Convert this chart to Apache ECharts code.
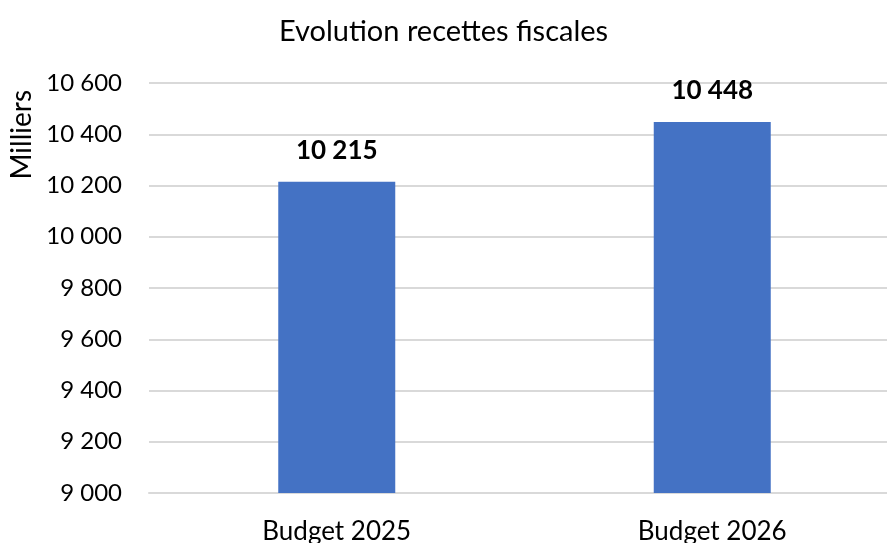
<!DOCTYPE html>
<html><head><meta charset="utf-8">
<script src="https://cdn.jsdelivr.net/npm/echarts@6/dist/echarts.min.js"></script>
<style>html,body{margin:0;padding:0;background:#fff}#c{width:887px;height:543px}</style>
</head><body><div id="c"></div>
<script>
const categories = ['Budget 2025', 'Budget 2026'];
const values = [10215, 10448];
const yTicks = { min: 9000, max: 10600, interval: 200 };
const titleText = 'Evolution recettes fiscales';
const yName = 'Milliers';

const fmt = v => String(v).replace(/\B(?=(\d{3})+(?!\d))/g, ' ');
const FONT = 'Lato, "Open Sans", sans-serif';
const chart = echarts.init(document.getElementById('c'), null, {renderer: 'canvas'});
chart.setOption({
  animation: false,
  title: { text: titleText, left: 'center', top: 12,
    textStyle: { fontFamily: FONT, fontSize: 29, fontWeight: 'normal', color: '#000' } },
  graphic: [{ type: 'text', left: 8, top: 90, rotation: Math.PI / 2,
    style: { text: yName, fontFamily: FONT, fontSize: 28, fill: '#000' } }],
  grid: { left: 149, top: 83, right: -13, bottom: 50, containLabel: false, outerBoundsMode: 'none' },
  xAxis: { type: 'category', data: categories,
    axisLine: { show: true, lineStyle: { color: '#d9d9d9', width: 2 } },
    axisTick: { show: false },
    axisLabel: { fontFamily: FONT, fontSize: 26, color: '#000', margin: 26 } },
  yAxis: { type: 'value', min: yTicks.min, max: yTicks.max, interval: yTicks.interval,
    axisLine: { show: false }, axisTick: { show: false },
    splitLine: { lineStyle: { color: '#d9d9d9', width: 2 } },
    axisLabel: { fontFamily: FONT, fontSize: 24, color: '#000', margin: 27, formatter: fmt } },
  series: [{ type: 'bar', data: values, barWidth: 117,
    itemStyle: { color: '#4472c4' },
    label: { show: true, position: 'top', distance: 18, formatter: p => fmt(p.value),
      fontFamily: FONT, fontSize: 26, fontWeight: 'bold', color: '#000' } }]
});
</script></body></html>
